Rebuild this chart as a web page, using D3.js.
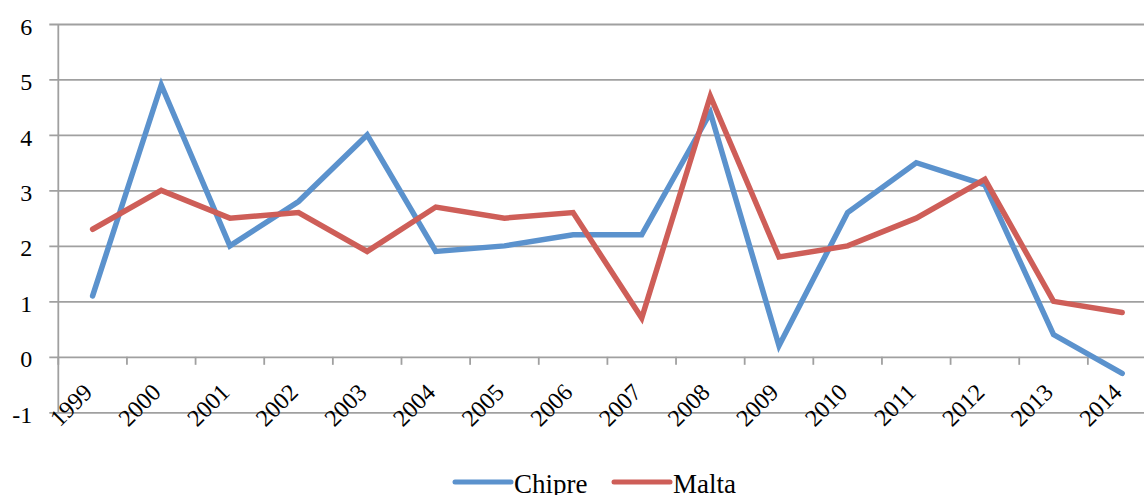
<!DOCTYPE html>
<html>
<head>
<meta charset="utf-8">
<script src="https://cdn.jsdelivr.net/npm/d3@7"></script>
<style>
  body { margin: 0; background: #fff; }
  svg { display: block; }
  svg text { font-family: "Liberation Serif", "DejaVu Serif", serif; }
</style>
</head>
<body>
<div id="chart"></div>
<script>
var years = ["1999","2000","2001","2002","2003","2004","2005","2006","2007","2008","2009","2010","2011","2012","2013","2014"];
var chipre = [1.1, 4.9, 2.0, 2.8, 4.0, 1.9, 2.0, 2.2, 2.2, 4.4, 0.2, 2.6, 3.5, 3.1, 0.4, -0.3];
var malta  = [2.3, 3.0, 2.5, 2.6, 1.9, 2.7, 2.5, 2.6, 0.7, 4.7, 1.8, 2.0, 2.5, 3.2, 1.0, 0.8];
var yTicks = [-1, 0, 1, 2, 3, 4, 5, 6];
var seriesNames = ["Chipre", "Malta"];
var colors = ["#5b92cd", "#ce5e58"];

var width = 1144, height = 495;
var plotLeft = 58.3, plotRight = 1156.5, plotTop = 24, plotBottom = 412.3;

var svg = d3.select("#chart")
  .append("svg")
    .attr("width", width)
    .attr("height", height);

var x = d3.scaleBand()
  .domain(years)
  .range([plotLeft, plotRight]);

var y = d3.scaleLinear()
  .domain([-1, 6])
  .range([plotBottom, plotTop]);

// gridlines + y labels
var yAxis = svg.append("g")
  .attr("transform", "translate(" + plotLeft + ",0)")
  .call(d3.axisLeft(y).tickValues(yTicks).tickSizeInner(-(plotRight - plotLeft)).tickSizeOuter(0).tickPadding(26)
    .tickFormat(function(d) { return String(d); }));
yAxis.attr("font-family", null);
yAxis.select(".domain").remove();
yAxis.selectAll(".tick line")
  .attr("x1", -9)
  .attr("stroke", "#a0a0a0")
  .attr("stroke-width", 1.8);
yAxis.selectAll(".tick text")
  .attr("font-size", 24)
  .attr("fill", "#000")
  .attr("dy", "0.42em");

// vertical axis line
svg.append("line")
  .attr("x1", plotLeft).attr("x2", plotLeft)
  .attr("y1", plotTop).attr("y2", plotBottom)
  .attr("stroke", "#a0a0a0")
  .attr("stroke-width", 1.8);

// x axis at zero, tick marks between categories
var xg = svg.append("g")
  .attr("transform", "translate(0," + y(0) + ")");
xg.selectAll(".xt")
  .data(years)
  .enter()
  .append("line")
    .attr("class", "xt")
    .attr("x1", function(d) { return x(d); })
    .attr("x2", function(d) { return x(d); })
    .attr("y1", 0).attr("y2", 8)
    .attr("stroke", "#a0a0a0").attr("stroke-width", 1.8);

// x labels rotated
svg.append("g")
  .selectAll("text")
  .data(years)
  .enter()
  .append("text")
    .attr("transform", function(d) {
      return "translate(" + (x(d) + x.bandwidth() / 2 + 1) + "," + (y(0) + 37) + ") rotate(-45)";
    })
    .attr("text-anchor", "end")
    .attr("font-size", 24)
    .attr("fill", "#000")
    .text(function(d) { return d; });

// lines
var line = d3.line()
  .x(function(d, i) { return x(years[i]) + x.bandwidth() / 2; })
  .y(function(d) { return y(d); });

[chipre, malta].forEach(function(s, i) {
  svg.append("path")
    .datum(s)
    .attr("fill", "none")
    .attr("stroke", colors[i])
    .attr("stroke-width", 5.5)
    .attr("stroke-linejoin", "miter")
    .attr("stroke-linecap", "round")
    .attr("d", line);
});

// legend
var legendX = [455, 614];
var lg = svg.append("g");
seriesNames.forEach(function(name, i) {
  lg.append("line")
    .attr("x1", legendX[i]).attr("x2", legendX[i] + 56)
    .attr("y1", 482).attr("y2", 482)
    .attr("stroke", colors[i])
    .attr("stroke-width", 5)
    .attr("stroke-linecap", "round");
  lg.append("text")
    .attr("x", legendX[i] + 59)
    .attr("y", 493)
    .attr("font-size", 27)
    .attr("fill", "#000")
    .text(name);
});
</script>
</body>
</html>
